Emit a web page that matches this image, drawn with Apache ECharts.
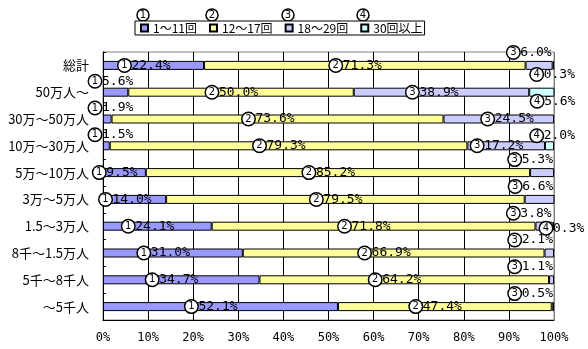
<!DOCTYPE html>
<html>
<head>
<meta charset="utf-8">
<script src="https://cdn.jsdelivr.net/npm/echarts@6/dist/echarts.min.js"></script>
<style>
  html, body { margin: 0; padding: 0; background: #fff; }
  #chart { width: 588px; height: 349px; }
</style>
</head>
<body>
<div id="chart"></div>
<script>
// Population-size groups (rows, top to bottom)
const categories = ['総計', '50万人〜', '30万〜50万人', '10万〜30万人', '5万〜10万人',
                    '3万〜5万人', '1.5〜3万人', '8千〜1.5万人', '5千〜8千人', '〜5千人'];
const seriesNames = ['1〜11回', '12〜17回', '18〜29回', '30回以上'];

// Share of each visit-count band, percent
const visits1to11  = [22.4, 5.6, 1.9, 1.5, 9.5, 14.0, 24.1, 31.0, 34.7, 52.1];
const visits12to17 = [71.3, 50.0, 73.6, 79.3, 85.2, 79.5, 71.8, 66.9, 64.2, 47.4];
const visits18to29 = [6.0, 38.9, 24.5, 17.2, 5.3, 6.6, 3.8, 2.1, 1.1, 0.5];
const visits30plus = [0.3, 5.6, null, 2.0, null, null, 0.3, null, null, null];

// Where each data label sits relative to its segment
const place1 = ['mid', 'upL', 'upL', 'upL', 'mid', 'mid', 'mid', 'mid', 'mid', 'mid'];
const place2 = ['mid', 'mid', 'mid', 'mid', 'mid', 'mid', 'mid', 'mid', 'mid', 'mid'];
const place3 = ['upR', 'mid', 'midR', 'mid', 'upR', 'upR', 'upR', 'upR', 'upR', 'upR'];
const place4 = ['dnR', 'dnR', null, 'upRR', null, null, 'rt', null, null, null];

const colors = ['#9999FF', '#FFFF99', '#CCCCFF', '#CCFFFF'];
const seriesValues = [visits1to11, visits12to17, visits18to29, visits30plus];
const placements = [place1, place2, place3, place4];

const richStyles = {
  n: {
    fontFamily: 'DejaVu Sans', fontSize: 10, color: '#000',
    backgroundColor: '#fff', borderColor: '#000', borderWidth: 1.5, borderRadius: 7,
    width: 12, height: 12, lineHeight: 12, align: 'center', verticalAlign: 'middle'
  },
  v: { fontFamily: 'DejaVu Sans Mono', fontSize: 13, color: '#000', padding: [0, 0, 0, 1] }
};

function labelFor(kind) {
  const base = { show: true, color: '#000', textBorderWidth: 0, rich: richStyles };
  switch (kind) {
    case 'mid':  return Object.assign(base, { position: 'inside', offset: [-9, 0] });
    case 'midR': return Object.assign(base, { position: 'inside', offset: [9, 0] });
    case 'upL':  return Object.assign(base, { position: [0, 0], align: 'left', verticalAlign: 'bottom', offset: [-14, 0] });
    case 'upR':  return Object.assign(base, { position: ['100%', 0], align: 'right', verticalAlign: 'bottom', offset: [-1, -2] });
    case 'upRR': return Object.assign(base, { position: ['100%', 0], align: 'right', verticalAlign: 'bottom', offset: [21, 1] });
    case 'dnR':  return Object.assign(base, { position: ['100%', '100%'], align: 'right', verticalAlign: 'top', offset: [21, -2] });
    case 'rt':   return Object.assign(base, { position: 'right', distance: 0, offset: [-14, 2] });
    default:     return { show: false };
  }
}

const series = seriesNames.map((name, k) => ({
  name: name,
  type: 'bar',
  stack: 'total',
  barWidth: 9,
  itemStyle: { color: colors[k], borderColor: '#000', borderWidth: 1 },
  label: {
    formatter: p => `{n|${k + 1}}{v|${p.value.toFixed(1)}%}`
  },
  data: seriesValues[k].map((v, i) => ({
    value: v,
    label: v == null ? { show: false } : labelFor(placements[k][i])
  }))
}));

// Number badges shown above each legend swatch
const legendBadgeX = [143, 212, 288, 363];
const graphic = legendBadgeX.map((x, k) => ({
  type: 'group',
  x: x, y: 15, z: 100,
  children: [
    { type: 'circle', shape: { cx: 0, cy: 0, r: 6 }, style: { fill: '#fff', stroke: '#000', lineWidth: 1.5 } },
    { type: 'text', x: 0, y: 0, style: { text: String(k + 1), fontFamily: 'DejaVu Sans', fontSize: 10,
      fill: '#000', align: 'center', verticalAlign: 'middle' } }
  ]
}));

const splitColors = ['#000', '#000', '#000', '#000', '#000', '#000', '#000', '#000', '#000', '#000', '#808080'];

const option = {
  animation: false,
  backgroundColor: '#fff',
  textStyle: { fontFamily: 'Noto Sans CJK JP' },
  legend: {
    left: 135, top: 21,
    data: seriesNames,
    icon: 'rect',
    itemWidth: 7, itemHeight: 7, itemGap: 12,
    padding: [1, 2, 1, 5],
    borderColor: '#000', borderWidth: 1, backgroundColor: '#fff',
    textStyle: { fontFamily: 'Noto Sans CJK JP', fontSize: 12, color: '#000' },
    selectedMode: false
  },
  graphic: graphic,
  grid: { left: 103, right: 34, top: 52, bottom: 29, containLabel: false, outerBoundsMode: 'none',
          show: true, borderColor: '#808080', borderWidth: 1, backgroundColor: '#fff' },
  xAxis: {
    type: 'value', min: 0, max: 100, interval: 10,
    axisLine: { show: true, lineStyle: { color: '#000', width: 1 } },
    axisTick: { show: false },
    axisLabel: { formatter: '{value}%', color: '#000', fontFamily: 'DejaVu Sans Mono', fontSize: 12, margin: 12 },
    splitLine: { show: true, lineStyle: { color: splitColors, width: 1 } }
  },
  yAxis: {
    type: 'category', inverse: true, data: categories,
    axisLine: { show: true, lineStyle: { color: '#000', width: 1 } },
    axisTick: { show: true, inside: true, length: 3, lineStyle: { color: '#000' } },
    axisLabel: { interval: 0, color: '#000', fontFamily: 'Noto Sans CJK JP', fontSize: 13, margin: 14 },
    splitLine: { show: false }
  },
  series: series
};

const chart = echarts.init(document.getElementById('chart'), null, { renderer: 'canvas' });
chart.setOption(option);
</script>
</body>
</html>
